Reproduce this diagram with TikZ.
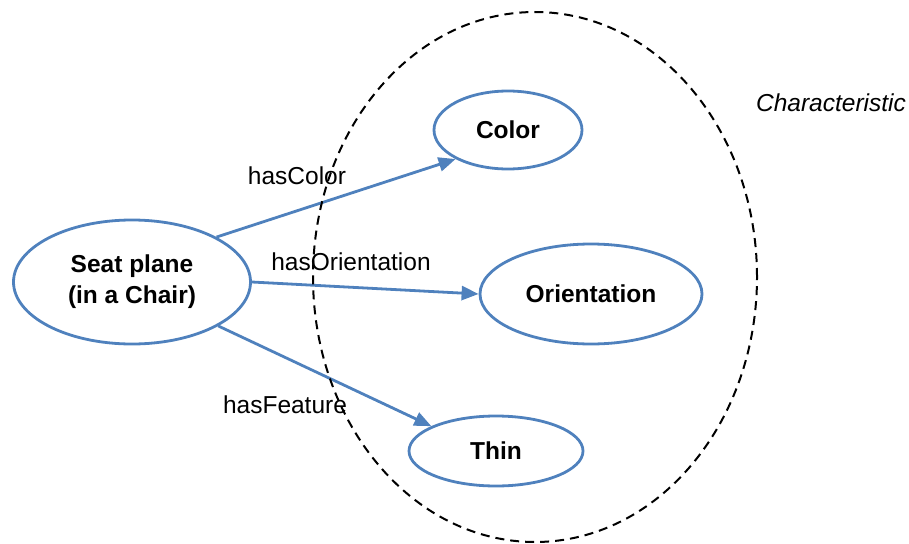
\documentclass[tikz,border=0pt]{standalone}
\usepackage{fontspec}
\setmainfont{Liberation Sans}
\usetikzlibrary{arrows.meta,shapes.geometric}
\definecolor{edgeblue}{HTML}{4F81BD}

\begin{document}
\begin{tikzpicture}[x=1pt, y=1pt, line width=2.8pt,
                    every node/.style={font=\fontsize{24.5}{31}\selectfont},
                    concept node/.style={ellipse, draw=edgeblue, inner sep=0pt, align=center,
                                         font=\fontsize{24.5}{31}\selectfont\bfseries},
                    rel label/.style={inner sep=0pt},
                    relation/.style={draw=edgeblue, -{Triangle[length=17pt,width=14pt]}}]
  \useasboundingbox (0,0) rectangle (909,-543);

  \node[concept node, minimum width=237, minimum height=124] (seat) at (132,-282) {Seat plane\\(in a Chair)};
  \node[concept node, minimum width=148, minimum height=78] (color) at (508,-130) {Color};
  \node[concept node, minimum width=222, minimum height=100] (orient) at (591,-294) {Orientation};
  \node[concept node, minimum width=174, minimum height=70] (thin) at (496,-451) {Thin};

  \draw[relation] (seat.28) -- (color.209);
  \draw[relation] (seat.east) -- (orient.west);
  \draw[relation] (seat.-27) -- (thin.159);

  \node[rel label] (lblColor) at (297,-176) {hasColor};
  \node[rel label] (lblOrient) at (351,-262) {hasOrientation};
  \node[rel label] (lblFeature) at (285,-405) {hasFeature};

  % the characteristic set
  \node[ellipse, draw, dash pattern=on 9pt off 6pt, line width=2pt,
        minimum width=444, minimum height=530] (charArea) at (535,-277) {};
  \node[font=\fontsize{24.5}{31}\selectfont\itshape] (charLabel) at (831,-103) {Characteristic};
\end{tikzpicture}
\end{document}
